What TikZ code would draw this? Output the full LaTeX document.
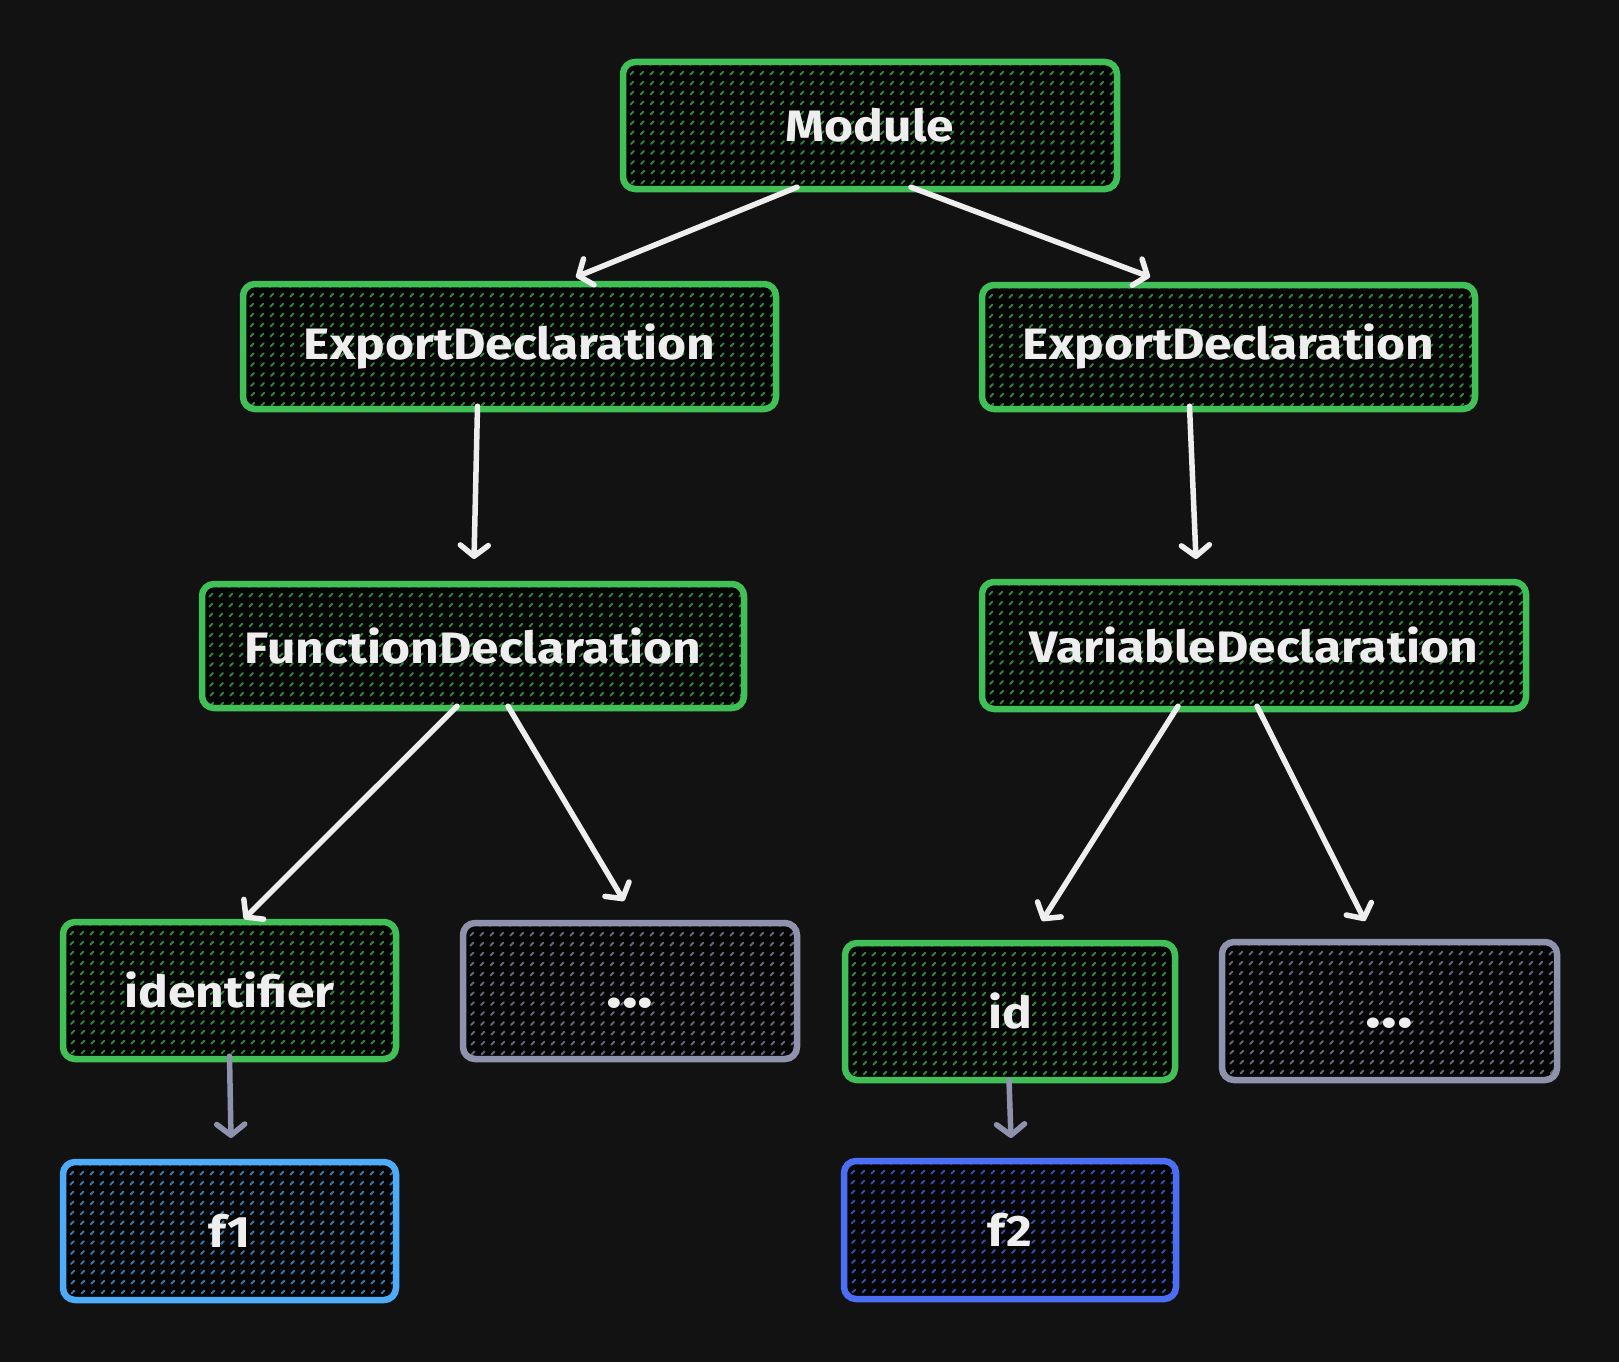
\documentclass[tikz,border=0pt]{standalone}
\usepackage{fontspec}
\setmainfont{Fira Sans}[FakeStretch=1.13]
\usetikzlibrary{arrows.meta,calc}
\definecolor{bg}{HTML}{121212}
\definecolor{boxfill}{HTML}{050505}
\definecolor{grn}{HTML}{40C057}
\definecolor{blu}{HTML}{4DABF7}
\definecolor{ind}{HTML}{4C6EF5}
\definecolor{gry}{HTML}{8F92AD}
\definecolor{arrw}{HTML}{EEEEEE}
\tikzset{
  lbl/.style={text=arrw, font=\fontsize{44}{46}\selectfont\bfseries, inner sep=0pt},
  conn/.style={draw=arrw, line width=5.5pt, line cap=round, -{Straight Barb[length=11pt,width=28pt,round]}},
  gconn/.style={conn, draw=gry},
}
\newcommand\dotstext{\raisebox{-16pt}[0pt][0pt]{\fontsize{58}{58}\selectfont\bfseries ...}}
\newcommand\tbox[7]{%
  \fill[boxfill, rounded corners=12pt] (#2,#3) rectangle (#4,#5);
  \begin{scope}
    \clip[rounded corners=12pt] (#2,#3) rectangle (#4,#5);
    \pgfmathtruncatemacro\ca{#2+#3}%
    \pgfmathtruncatemacro\cb{#4+#5}%
    \pgfmathtruncatemacro\cn{\ca+10}%
    \foreach \c in {\ca,\cn,...,\cb}
      \draw[#6!70!black, line width=2pt, line cap=round, dash pattern=on 4pt off 10pt] (\c-#3,#3) -- (\c-#5,#5);
  \end{scope}
  \draw[#6, line width=6.5pt, rounded corners=12pt] (#2,#3) rectangle (#4,#5);
  \pgfmathsetmacro\bw{#4-#2}%
  \pgfmathsetmacro\bh{#5-#3}%
  \node[lbl, minimum width=\bw pt, minimum height=\bh pt] (#1) at ({(#2+#4)/2},{(#3+#5)/2}) {#7};
}
\begin{document}
\begin{tikzpicture}[x=1pt,y=-1pt]
\fill[bg] (0,0) rectangle (1619,1362);
\useasboundingbox (0,0) rectangle (1619,1362);

\tbox{mod}{623}{62}{1117}{189}{grn}{Module}
\tbox{edl}{243}{284}{776}{409}{grn}{ExportDeclaration}
\tbox{edr}{982}{285}{1475}{409}{grn}{ExportDeclaration}
\tbox{fd}{202}{584}{744}{708}{grn}{FunctionDeclaration}
\tbox{vd}{982}{582}{1526}{709}{grn}{VariableDeclaration}
\tbox{ident}{63}{922}{396}{1059}{grn}{identifier}
\tbox{dl}{463}{923}{797}{1059}{gry}{\dotstext}
\tbox{idn}{845}{943}{1175}{1080}{grn}{id}
\tbox{dr}{1222}{942}{1557}{1080}{gry}{\dotstext}
\tbox{fa}{63}{1162}{396}{1300}{blu}{f1}
\tbox{fb}{844}{1161}{1176}{1299}{ind}{f2}

\coordinate (e1) at (576,277);
\coordinate (e2) at (1150,277);
\coordinate (e3) at (474,559);
\coordinate (e4) at (1196,559);
\coordinate (e5) at (244,919);
\coordinate (e6) at (624,901);
\coordinate (e7) at (1042,921);
\coordinate (e8) at (1365,921);
\coordinate (e9) at (231,1138);
\coordinate (e10) at (1011,1138);

\draw[conn] ($(mod.south)+(-73,-2)$) -- (e1);
\draw[conn] ($(mod.south)+(41,-2)$) -- (e2);
\draw[conn] ($(edl.south)+(-32,-3)$) -- (e3);
\draw[conn] ($(edr.south)+(-39,-3)$) -- (e4);
\draw[conn] ($(fd.south)+(-16,-2)$) -- (e5);
\draw[conn] ($(fd.south)+(35,-2)$) -- (e6);
\draw[conn] ($(vd.south)+(-76,-3)$) -- (e7);
\draw[conn] ($(vd.south)+(3,-3)$) -- (e8);
\draw[gconn] ($(ident.south)+(0,-3)$) -- (e9);
\draw[gconn] ($(idn.south)+(-1,0)$) -- (e10);
\end{tikzpicture}
\end{document}
